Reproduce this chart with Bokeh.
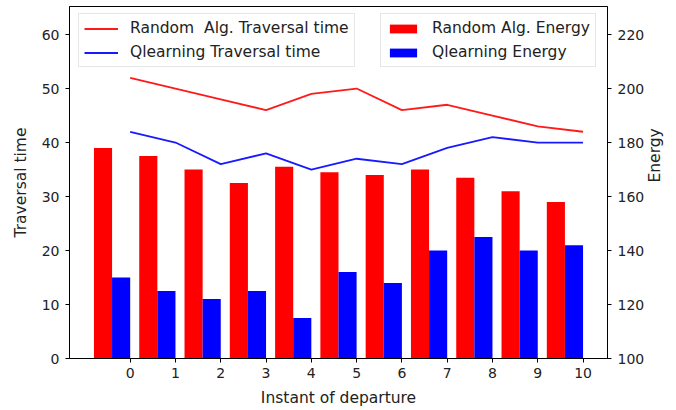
from bokeh.plotting import figure
from bokeh.models import Range1d, LinearAxis, Legend, LegendItem, FixedTicker
from bokeh.embed import file_html
from bokeh.resources import INLINE

instants = list(range(11))
random_time = [52, 50, 48, 46, 49, 50, 46, 47, 45, 43, 42]
qlearn_time = [42, 40, 36, 38, 35, 37, 36, 39, 41, 40, 40]
random_energy = [178, 175, 170, 165, 171, 169, 168, 170, 167, 162, 158]
qlearn_energy = [130, 125, 122, 125, 115, 132, 128, 140, 145, 140, 142]
time_ticks = [0, 10, 20, 30, 40, 50, 60]
energy_ticks = [100, 120, 140, 160, 180, 200, 220]

FONT = "DejaVu Sans"
TICK_FS = "14px"
LABEL_FS = "15.5px"

p = figure(width=676, height=410, output_backend="svg", toolbar_location=None,
           x_range=Range1d(-1.34, 10.54), y_range=Range1d(0, 65.2),
           min_border_left=69, min_border_right=66, min_border_top=6, min_border_bottom=52)
p.extra_y_ranges = {"energy": Range1d(100, 230.4)}

p.xgrid.visible = False
p.ygrid.visible = False
p.outline_line_color = "black"
p.outline_line_width = 1
p.background_fill_color = "white"
p.border_fill_color = "white"

bar_w = 0.4
r_bar = p.vbar(x=[i - 0.6 for i in instants], top=random_energy, bottom=100, width=bar_w,
               fill_color="#ff0000", line_color=None, y_range_name="energy")
q_bar = p.vbar(x=[i - 0.2 for i in instants], top=qlearn_energy, bottom=100, width=bar_w,
               fill_color="#0000ff", line_color=None, y_range_name="energy")

r_line = p.line(instants, random_time, line_color="#ff0000", line_width=1.8, line_alpha=0.9)
q_line = p.line(instants, qlearn_time, line_color="#0000ff", line_width=1.8, line_alpha=0.9)

def style_axis(ax):
    ax.axis_line_color = "black"
    ax.major_tick_line_color = "black"
    ax.major_tick_in = 0
    ax.major_tick_out = 4
    ax.minor_tick_line_color = None
    ax.major_label_text_font = FONT
    ax.major_label_text_font_size = TICK_FS
    ax.major_label_text_color = "#222222"
    ax.axis_label_text_font = FONT
    ax.axis_label_text_font_size = LABEL_FS
    ax.axis_label_text_font_style = "normal"
    ax.axis_label_text_color = "#222222"

p.xaxis.ticker = FixedTicker(ticks=instants)
p.xaxis.axis_label = "Instant of departure"
p.xaxis.major_label_standoff = 5
p.xaxis.axis_label_standoff = 8
style_axis(p.xaxis[0])

p.yaxis.ticker = FixedTicker(ticks=time_ticks)
p.yaxis.axis_label = "Traversal time"
p.yaxis.major_label_standoff = 6
p.yaxis.axis_label_standoff = 9
style_axis(p.yaxis[0])

right = LinearAxis(y_range_name="energy", axis_label="Energy",
                   ticker=FixedTicker(ticks=energy_ticks))
style_axis(right)
right.major_label_standoff = 6
right.axis_label_standoff = 8
right.axis_label_orientation = 1.5707963
p.add_layout(right, "right")

def style_legend(lg):
    lg.label_text_font = FONT
    lg.label_text_font_size = LABEL_FS
    lg.label_text_color = "#222222"
    lg.glyph_width = 34
    lg.glyph_height = 11
    lg.label_height = 18
    lg.label_standoff = 12
    lg.spacing = 6
    lg.padding = 5
    lg.margin = 0
    lg.border_line_color = "#d0d0d0"
    lg.border_line_width = 1
    lg.background_fill_alpha = 0.8

leg1 = Legend(items=[LegendItem(label="Random  Alg. Traversal time", renderers=[r_line]),
                     LegendItem(label="Qlearning Traversal time", renderers=[q_line])],
              location=(9, 291))
leg2 = Legend(items=[LegendItem(label="Random Alg. Energy", renderers=[r_bar]),
                     LegendItem(label="Qlearning Energy", renderers=[q_bar])],
              location=(311, 291))
style_legend(leg1)
style_legend(leg2)
p.add_layout(leg1)
p.add_layout(leg2)

open("out.html", "w").write(file_html(p, INLINE))
